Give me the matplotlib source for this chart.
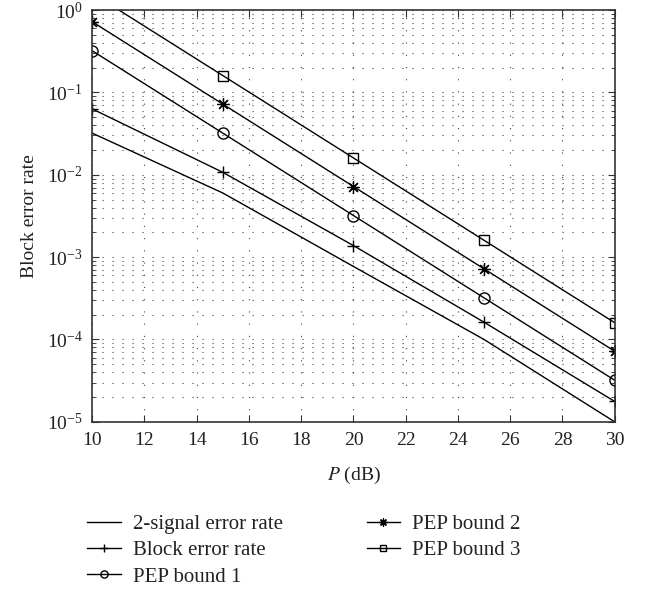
import numpy as np
import matplotlib
matplotlib.use("Agg")
import matplotlib.pyplot as plt

plt.rcParams["font.family"] = ["Liberation Serif", "DejaVu Serif"]
plt.rcParams["mathtext.fontset"] = "stix"

# ── DATA ────────────────────────────────────────────
snr_db = [10, 15, 20, 25, 30]
two_signal = [0.032, 0.006, 0.00077, 0.0001, 1.0e-5]
block_err  = [0.063, 0.0107, 0.00138, 0.000162, 1.77e-5]
pep1       = [0.32, 0.032, 0.0032, 0.00032, 3.2e-5]
pep2       = [0.72, 0.072, 0.0072, 0.00072, 7.2e-5]
pep3       = [1.6, 0.16, 0.016, 0.0016, 0.00016]

x_ticks = [10, 12, 14, 16, 18, 20, 22, 24, 26, 28, 30]

fig = plt.figure(figsize=(6.45, 5.9), dpi=100)
ax = fig.add_axes([0.143, 0.285, 0.81, 0.698])

lw = 1.0
asterisk = (8, 2, 0)
ax.semilogy(snr_db, two_signal, "-", color="black", lw=lw, label="2-signal error rate")
ax.semilogy(snr_db, block_err, "-", marker="+", color="black", lw=lw, ms=9, mew=1.0,
            label="Block error rate")
ax.semilogy(snr_db, pep1, "-", marker="o", color="black", lw=lw, ms=8, mfc="none",
            mew=1.0, label="PEP bound 1")
ax.semilogy(snr_db, pep2, "-", marker=asterisk, color="black", lw=lw, ms=9, mew=0.9,
            label="PEP bound 2")
ax.semilogy(snr_db, pep3, "-", marker="s", color="black", lw=lw, ms=7, mfc="none",
            mew=1.0, label="PEP bound 3")

ax.set_xlim(10, 30)
ax.set_ylim(1e-5, 1e0)
ax.set_xticks(x_ticks)
ax.grid(True, which="major", axis="x", linestyle=(0, (1, 10)), color="#444444", lw=0.8)
ax.grid(True, which="both", axis="y", linestyle=(0, (1, 8)), color="#444444", lw=0.8)
ax.tick_params(which="both", direction="in", top=True, right=True, labelsize=14,
               color="#333333", labelcolor="#222222")
ax.tick_params(which="major", length=5, pad=7)
ax.tick_params(which="minor", length=3)
for s in ax.spines.values():
    s.set_color("#333333")
    s.set_linewidth(1.2)

ax.set_xlabel("$\\it{P}$ (dB)", fontsize=14, labelpad=12, color="#222222")
ax.set_ylabel("Block error rate", fontsize=14, labelpad=6, color="#222222")

fig.legend(loc="upper left", bbox_to_anchor=(77 / 645, 1 - 504 / 590), ncol=2,
           frameon=False, fontsize=15, handlelength=1.6, columnspacing=4.0,
           labelspacing=0.32, handletextpad=0.6, borderpad=0, markerscale=0.65,
           labelcolor="#222222")

fig.savefig("out.png", dpi=100)
